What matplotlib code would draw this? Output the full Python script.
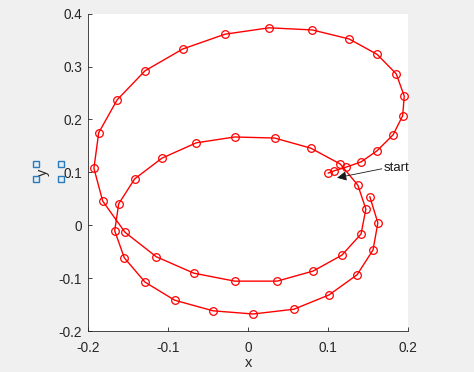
import matplotlib
matplotlib.use("Agg")
import matplotlib.pyplot as plt
from matplotlib.patches import Rectangle

# trajectory (counter-clockwise spiral from the start point)
x_vals = [0.100, 0.107, 0.122, 0.141, 0.161, 0.181, 0.193, 0.195, 0.185, 0.161,
          0.126, 0.080, 0.026, -0.029, -0.082, -0.129, -0.164, -0.187, -0.193, -0.182,
          -0.154, -0.115, -0.068, -0.017, 0.036, 0.081, 0.117, 0.141, 0.147, 0.137,
          0.115, 0.078, 0.033, -0.017, -0.065, -0.108, -0.142, -0.162, -0.167, -0.155,
          -0.129, -0.092, -0.044, 0.006, 0.057, 0.101, 0.136, 0.156, 0.162, 0.152]
y_vals = [0.099, 0.103, 0.110, 0.120, 0.141, 0.171, 0.207, 0.244, 0.286, 0.323,
          0.352, 0.369, 0.373, 0.361, 0.333, 0.292, 0.237, 0.175, 0.108, 0.046,
          -0.013, -0.059, -0.090, -0.105, -0.105, -0.086, -0.056, -0.016, 0.031, 0.076,
          0.116, 0.146, 0.165, 0.167, 0.156, 0.127, 0.088, 0.041, -0.010, -0.061,
          -0.107, -0.141, -0.161, -0.167, -0.158, -0.131, -0.093, -0.046, 0.005, 0.054]

x_ticks = [-0.2, -0.1, 0, 0.1, 0.2]
y_ticks = [-0.2, -0.1, 0, 0.1, 0.2, 0.3, 0.4]

start_tip = (0.111, 0.090)
start_tail = (0.167, 0.107)
start_text = "start"


def main():
    plt.rcParams["font.family"] = ["Liberation Sans", "DejaVu Sans"]
    plt.rcParams["axes.unicode_minus"] = False

    fig = plt.figure(figsize=(4.74, 3.72), dpi=100, facecolor="#f0f0f0")
    ax = fig.add_axes([0.1863, 0.1089, 0.675, 0.8548])
    ax.set_facecolor("white")

    ax.plot(x_vals, y_vals, color="red", lw=1.0, marker="o", markersize=5.5,
            markerfacecolor="none", markeredgecolor="red", markeredgewidth=0.9)

    # textarrow pointing at the start point
    ax.annotate("", xy=start_tip, xytext=start_tail,
                arrowprops=dict(arrowstyle="-|>", color="#1a1a1a", lw=0.6,
                                mutation_scale=14, shrinkA=0, shrinkB=0))
    ax.text(start_tail[0] + 0.002, start_tail[1] + 0.001, start_text,
            fontsize=9.5, ha="left", va="center", color="#1a1a1a")

    ax.set_xlim(-0.2, 0.2)
    ax.set_ylim(-0.2, 0.4)
    ax.set_xticks(x_ticks)
    ax.set_yticks(y_ticks)
    ax.set_xticklabels([f"{t:g}" for t in x_ticks])
    ax.set_yticklabels([f"{t:g}" for t in y_ticks])

    for side in ["top", "right"]:
        ax.spines[side].set_visible(False)
    for side in ["left", "bottom"]:
        ax.spines[side].set_color("#262626")
        ax.spines[side].set_linewidth(0.6)
    ax.tick_params(direction="in", length=3, width=0.6, colors="#262626",
                   labelsize=9.8)
    ax.tick_params(axis="x", pad=6.5)
    ax.tick_params(axis="y", pad=4.5)

    ax.set_xlabel("x", fontsize=10.5, color="#262626", labelpad=1)
    ax.set_ylabel("y", fontsize=10.5, color="#262626")
    ax.yaxis.set_label_coords(-0.12, 0.50)

    # selection handles round the y label (label being edited)
    for hx, hy in [(35.7, 164), (61.3, 164), (35.7, 179), (61.3, 179)]:
        fig.patches.append(Rectangle(((hx - 3) / 474, 1 - (hy + 3) / 372),
                                     6 / 474, 6 / 372, transform=fig.transFigure,
                                     facecolor="#e3eef8", edgecolor="#2a7ab8",
                                     lw=1.0))

    fig.savefig("out.png", dpi=100, facecolor=fig.get_facecolor())


if __name__ == "__main__":
    main()
